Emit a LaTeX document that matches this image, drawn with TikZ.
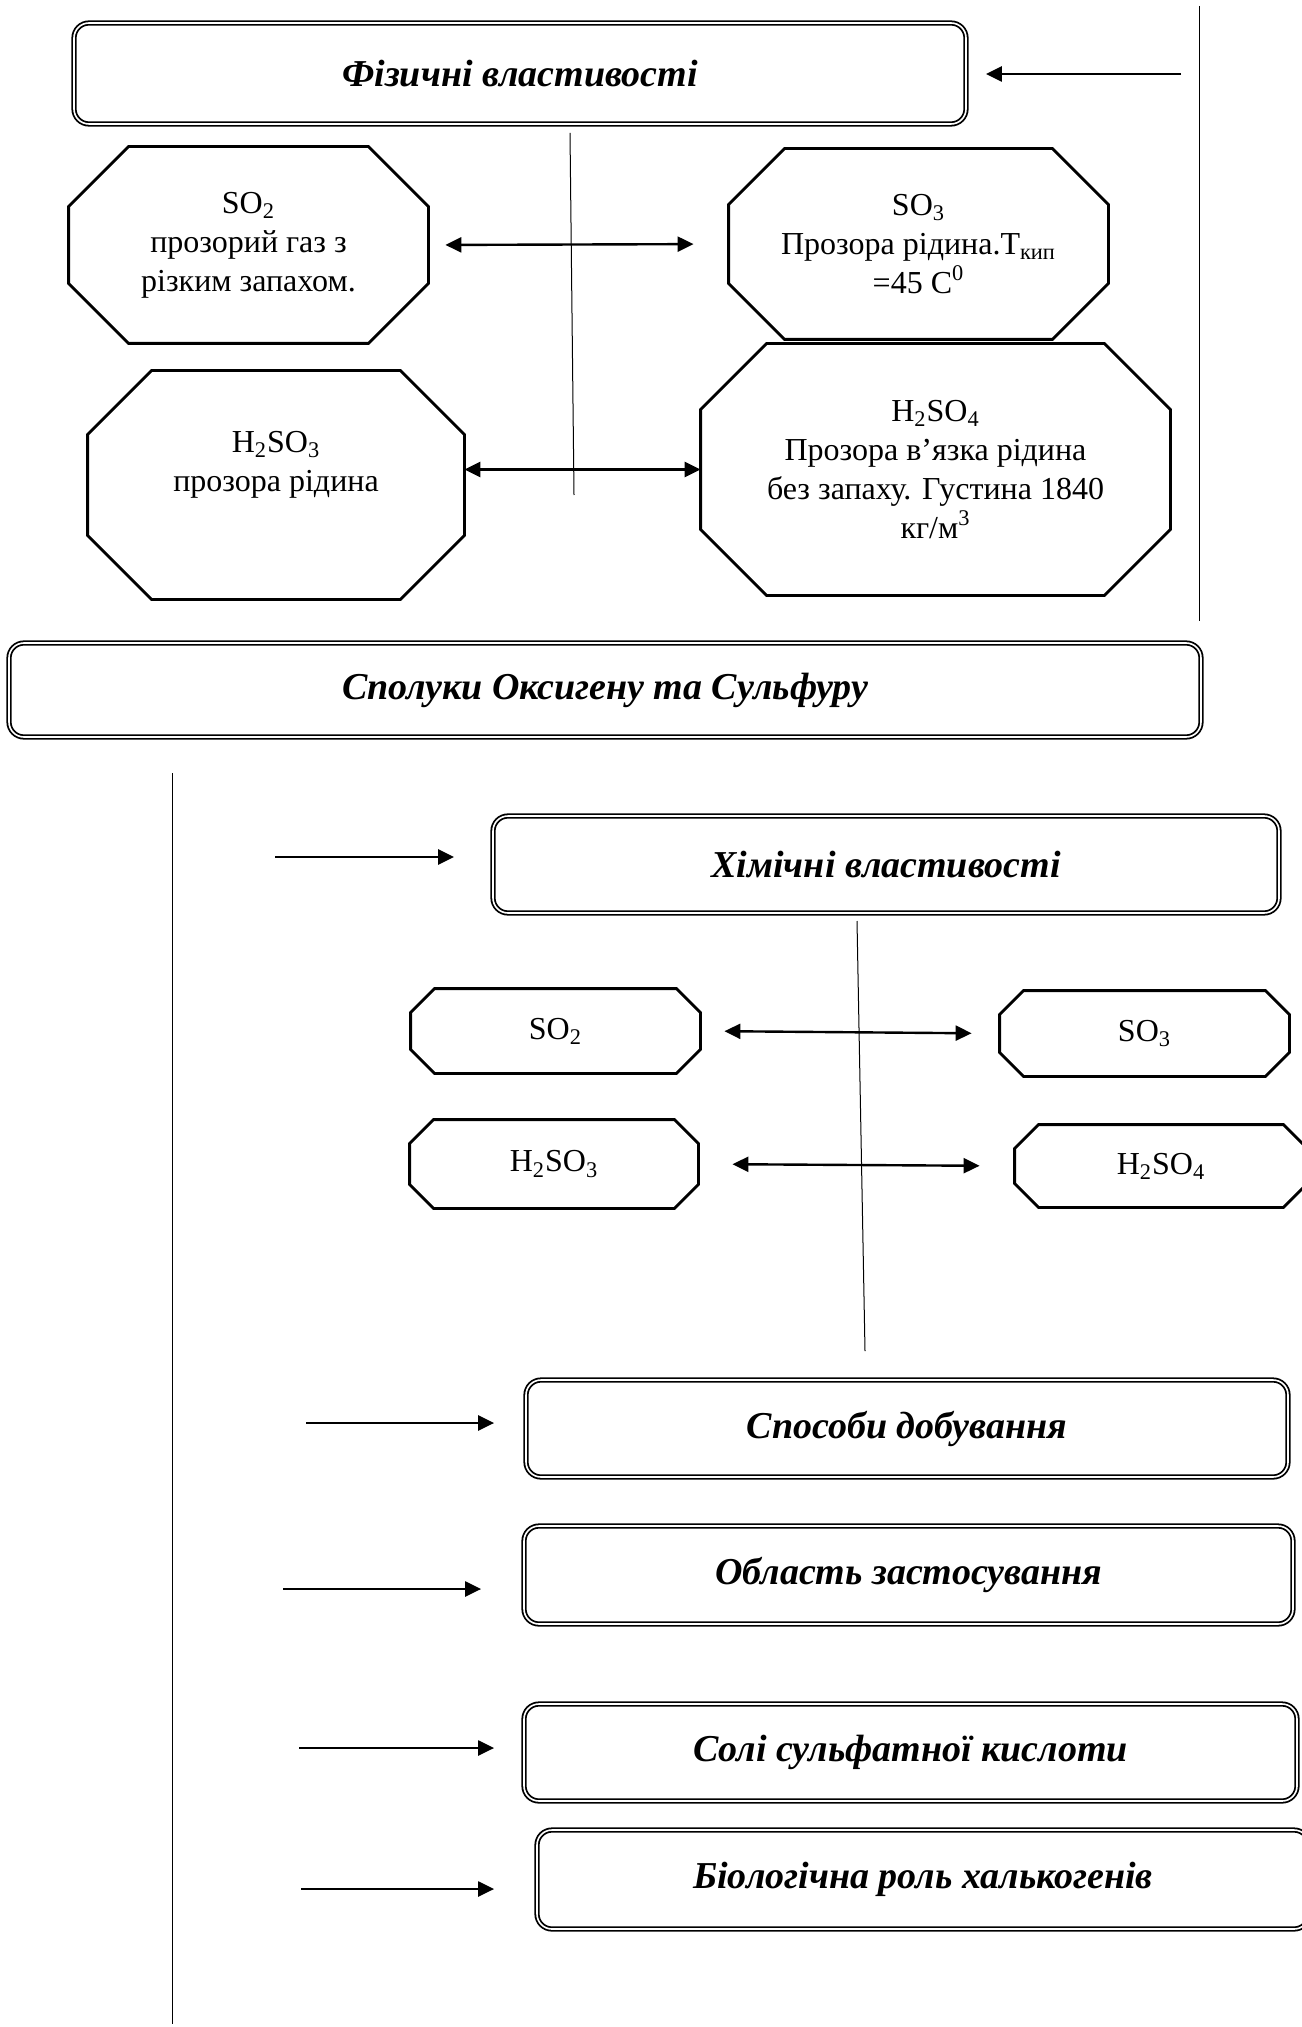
\documentclass[tikz,border=0pt]{standalone}
\usepackage{fontspec}
\setmainfont{Liberation Serif}
\usetikzlibrary{arrows.meta,positioning}

% octagon frame round a named node: #1 node, #2 chamfer
\newcommand\octframe[2]{%
    \draw[octline] ([xshift=#2]#1.north west) -- ([xshift=-#2]#1.north east) -- ([yshift=-#2]#1.north east)
        -- ([yshift=#2]#1.south east) -- ([xshift=-#2]#1.south east) -- ([xshift=#2]#1.south west)
        -- ([yshift=#2]#1.south west) -- ([yshift=-#2]#1.north west) -- cycle;}

\begin{document}
\begin{tikzpicture}[x=0.5pt, y=-0.5pt,
    heading/.style={draw, double, double distance=0.8pt, line width=0.9pt, rounded corners=7.5pt, inner sep=0pt, font=\fontsize{19}{23}\selectfont\bfseries\itshape},
    oct/.style={inner sep=0pt, align=center, font=\fontsize{16}{19.5}\selectfont},
    octline/.style={line width=1.4pt, line join=miter},
    arr/.style={line width=1.2pt, -{Triangle[length=8pt, width=7.5pt]}},
    darr/.style={line width=1.2pt, {Triangle[length=8pt, width=7.5pt]}-{Triangle[length=8pt, width=7.5pt]}},
    rule/.style={line width=0.5pt}
]
    \useasboundingbox (0,0) rectangle (1301,2027);

    % Headings
    \node[heading, minimum width=446pt, minimum height=50.5pt] (phys) at (520,73.5) {Фізичні властивості};
    \node[heading, minimum width=596pt, minimum height=47pt] (comp) at (605,690) {Сполуки Оксигену та Сульфуру};
    \node[heading, minimum width=393pt, minimum height=48.5pt] (chem) at (886,864.5) {Хімічні властивості};
    \node[heading, minimum width=381pt, minimum height=48.5pt] (obt) at (907,1428.5) {Способи добування};
    \node[heading, minimum width=384.5pt, minimum height=49pt] (appl) at (908.5,1575) {Область застосування};
    \node[heading, minimum width=386.5pt, minimum height=48.5pt] (salt) at (910.5,1752.5) {Солі сульфатної кислоти};
    \node[heading, minimum width=386pt, minimum height=49.5pt] (bio) at (923,1879.5) {Біологічна роль халькогенів};

    % Physical properties
    \node[oct, minimum width=179.5pt, minimum height=98pt] (so2) at (248.5,245)
        {SO\textsubscript{2}\\прозорий газ з\\різким запахом.};
    \node[oct, minimum width=189.5pt, minimum height=95pt] (so3) at (918.5,244)
        {SO\textsubscript{3}\\Прозора рідина.Т\textsubscript{кип}\\=45 C\textsuperscript{0}};
    \node[oct, minimum width=188pt, minimum height=114pt] (h2so3) at (276,485)
        {H\textsubscript{2}SO\textsubscript{3}\\прозора рідина\\[4pt]\mbox{}};
    \node[oct, minimum width=234.5pt, minimum height=125.5pt] (h2so4) at (935.5,469.5)
        {H\textsubscript{2}SO\textsubscript{4}\\Прозора в’язка рідина\\без запаху. Густина 1840\\кг/м\textsuperscript{3}};
    \octframe{so2}{30pt}
    \octframe{so3}{28pt}
    \octframe{h2so3}{32pt}
    \octframe{h2so4}{33pt}

    % Chemical properties
    \node[oct, minimum width=144.5pt, minimum height=42pt] (so2s) at (555.5,1031) {SO\textsubscript{2}};
    \node[oct, minimum width=144.5pt, minimum height=42.5pt] (so3s) at (1144.5,1033.5) {SO\textsubscript{3}};
    \node[oct, minimum width=144pt, minimum height=44pt] (h2so3s) at (554,1164) {H\textsubscript{2}SO\textsubscript{3}};
    \node[oct, minimum width=146pt, minimum height=41pt] (h2so4s) at (1161,1166) {H\textsubscript{2}SO\textsubscript{4}};
    \foreach \nd in {so2s, so3s, h2so3s, h2so4s}
        \octframe{\nd}{12pt};

    % Lines
    \coordinate (rtop) at (1199,6);
    \coordinate (rbot) at (1199,621);
    \draw[rule] (rtop) -- (rbot);
    \draw[rule] (570,133) -- (574,495);
    \draw[rule] (857,921) -- (865,1351);
    \coordinate (ltop) at (172,773);
    \coordinate (lbot) at (172,2024);
    \draw[rule] (ltop) -- (lbot);

    % Arrows
    \coordinate (sphys) at (1181,74);
    \draw[arr, shorten >=9.5pt] (sphys) -- (sphys -| phys.east);
    \draw[darr, shorten <=8.5pt, shorten >=17.5pt] (so2.east) -- (so3.west);
    \draw[darr] (h2so3.east |- h2so4.west) -- (h2so4.west);
    \draw[darr, shorten <=12pt, shorten >=14pt] (so2s.east) -- (so3s.west);
    \draw[darr, shorten <=17pt, shorten >=17.5pt] (h2so3s.east) -- (h2so4s.west);
    \foreach \nd/\sx/\sy/\gap in {chem/275/857/19, obt/306/1423/15.5, appl/283/1589/21, salt/299/1748/14.5, bio/301/1889/21} {
        \coordinate (s\nd) at (\sx,\sy);
        \draw[arr, shorten >=\gap pt] (s\nd) -- (s\nd -| \nd.west);
    }

\end{tikzpicture}
\end{document}
